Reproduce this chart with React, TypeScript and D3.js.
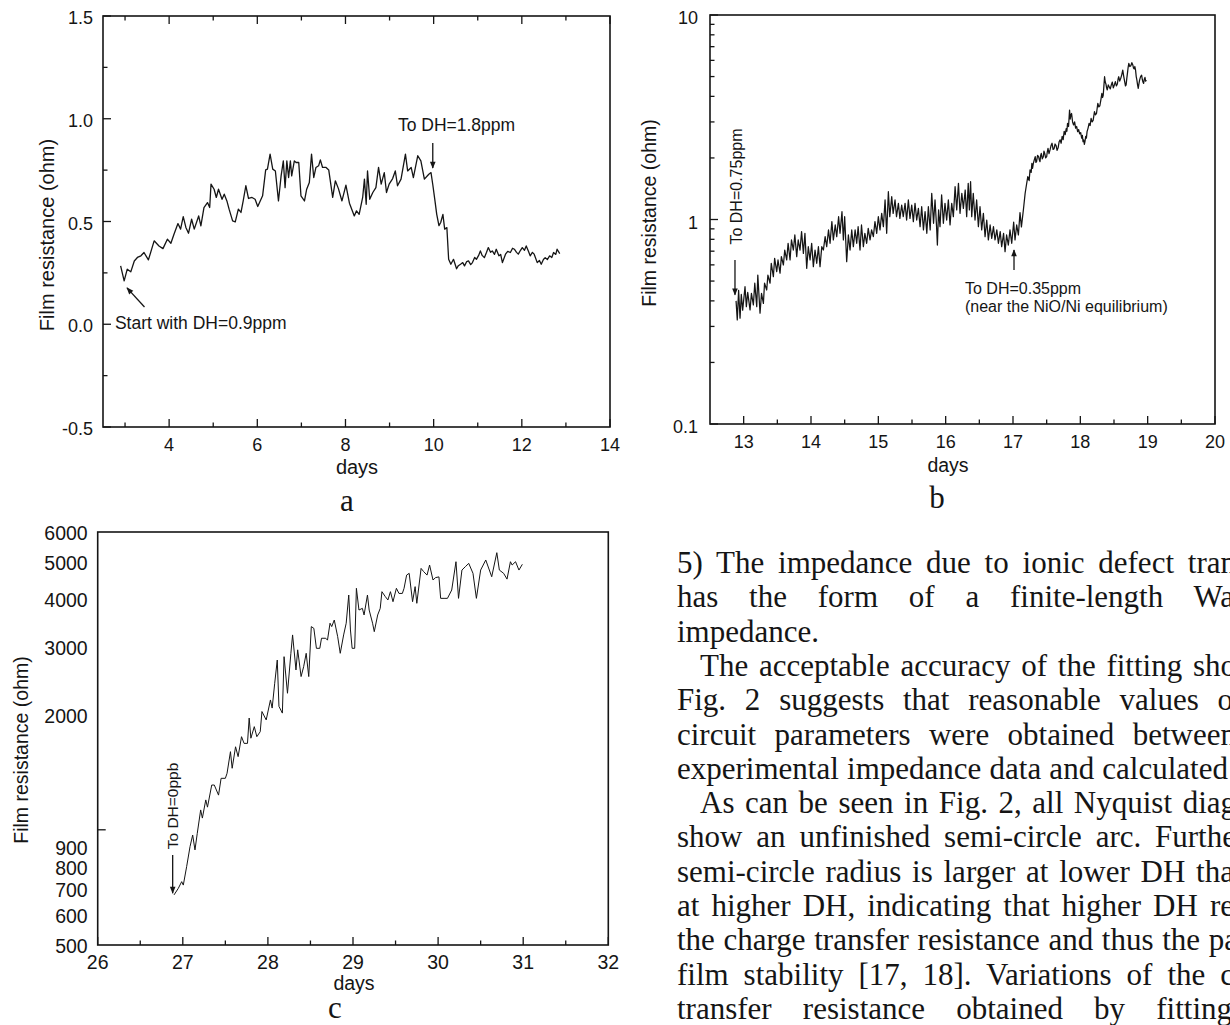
import { useEffect, useRef } from 'react'
import * as d3 from 'd3'

const SANS = "'Liberation Sans', Arial, Helvetica, sans-serif"
const SERIF = "'Liberation Serif', 'Times New Roman', serif"
const INK = '#151515'

type Pt = [number, number]

// ---- panel a: film resistance after start at DH=0.9ppm (linear ohm) ----
const dayTicksA = [4, 6, 8, 10, 12, 14]
const dayMinorA = [3, 5, 7, 9, 11, 13]
const ohmTicksA = [-0.5, 0, 0.5, 1, 1.5]
const ohmMinorA = [-0.25, 0.25, 0.75, 1.25]
const filmA: Pt[] = [
  [2.90, 0.284], [2.98, 0.211], [3.05, 0.268], [3.13, 0.255], [3.21, 0.308], [3.28, 0.325],
  [3.36, 0.333], [3.43, 0.349], [3.53, 0.313], [3.66, 0.406], [3.77, 0.381], [3.86, 0.368],
  [3.96, 0.414], [4.04, 0.394], [4.11, 0.438], [4.20, 0.490], [4.26, 0.463], [4.32, 0.524],
  [4.38, 0.471], [4.44, 0.443], [4.51, 0.511], [4.57, 0.463], [4.67, 0.527], [4.72, 0.479],
  [4.79, 0.568], [4.87, 0.592], [4.92, 0.568], [4.95, 0.682], [5.02, 0.657], [5.07, 0.617],
  [5.12, 0.657], [5.20, 0.608], [5.25, 0.633], [5.31, 0.600], [5.36, 0.560], [5.44, 0.503],
  [5.50, 0.498], [5.57, 0.560], [5.63, 0.544], [5.68, 0.600], [5.74, 0.674], [5.80, 0.612],
  [5.88, 0.617], [5.95, 0.608], [6.01, 0.573], [6.12, 0.625], [6.19, 0.751], [6.23, 0.755],
  [6.29, 0.828], [6.35, 0.755], [6.41, 0.746], [6.48, 0.600], [6.54, 0.722], [6.59, 0.795],
  [6.63, 0.665], [6.67, 0.795], [6.71, 0.714], [6.75, 0.795], [6.78, 0.722], [6.84, 0.795],
  [6.88, 0.787], [6.94, 0.787], [6.99, 0.625], [7.07, 0.600], [7.12, 0.657], [7.18, 0.690],
  [7.23, 0.828], [7.28, 0.714], [7.33, 0.763], [7.39, 0.771], [7.43, 0.800], [7.48, 0.763],
  [7.56, 0.763], [7.62, 0.751], [7.71, 0.617], [7.77, 0.698], [7.84, 0.660], [7.92, 0.600],
  [8.01, 0.677], [8.09, 0.589], [8.20, 0.527], [8.25, 0.552], [8.31, 0.535], [8.39, 0.617],
  [8.43, 0.706], [8.47, 0.584], [8.50, 0.746], [8.55, 0.608], [8.62, 0.641], [8.69, 0.665],
  [8.75, 0.763], [8.81, 0.682], [8.88, 0.738], [8.93, 0.641], [8.99, 0.682], [9.07, 0.709],
  [9.13, 0.746], [9.18, 0.674], [9.26, 0.706], [9.36, 0.828], [9.41, 0.746], [9.49, 0.763],
  [9.54, 0.714], [9.64, 0.820], [9.71, 0.795], [9.79, 0.706], [9.89, 0.730], [9.94, 0.738],
  [9.98, 0.680], [10.03, 0.600], [10.07, 0.535], [10.12, 0.480], [10.16, 0.495], [10.21, 0.535],
  [10.25, 0.463], [10.30, 0.470], [10.34, 0.316], [10.39, 0.292], [10.45, 0.316], [10.52, 0.270],
  [10.56, 0.285], [10.61, 0.292], [10.66, 0.300], [10.70, 0.284], [10.75, 0.305], [10.79, 0.308],
  [10.84, 0.290], [10.88, 0.300], [10.93, 0.325], [10.97, 0.316], [11.02, 0.335], [11.06, 0.357],
  [11.10, 0.335], [11.15, 0.324], [11.20, 0.350], [11.24, 0.373], [11.29, 0.350], [11.33, 0.357],
  [11.38, 0.340], [11.42, 0.365], [11.48, 0.333], [11.52, 0.340], [11.56, 0.300], [11.63, 0.341],
  [11.68, 0.355], [11.74, 0.349], [11.79, 0.370], [11.83, 0.365], [11.88, 0.350], [11.92, 0.341],
  [11.97, 0.360], [12.01, 0.373], [12.06, 0.360], [12.10, 0.381], [12.15, 0.355], [12.19, 0.333],
  [12.24, 0.350], [12.28, 0.341], [12.35, 0.300], [12.40, 0.310], [12.44, 0.292], [12.49, 0.315],
  [12.53, 0.324], [12.58, 0.315], [12.63, 0.333], [12.68, 0.325], [12.72, 0.349], [12.77, 0.340],
  [12.80, 0.365], [12.86, 0.344],
]

// ---- panel b: after DH=0.75ppm (log ohm) ----
const dayTicksB = [13, 14, 15, 16, 17, 18, 19, 20]
const dayMinorB = [13.5, 14.5, 15.5, 16.5, 17.5, 18.5, 19.5]
const ohmTicksB = [0.1, 1, 10]
const ohmMinorB = [0.2, 0.3, 0.4, 0.5, 0.6, 0.7, 0.8, 0.9, 2, 3, 4, 5, 6, 7, 8, 9]
const filmB: Pt[] = [
  [12.887, 0.40], [12.905, 0.323], [12.925, 0.45], [12.946, 0.329], [12.965, 0.43], [12.985, 0.36],
  [13.02, 0.469], [13.04, 0.375], [13.06, 0.44], [13.095, 0.361], [13.115, 0.435], [13.144, 0.382],
  [13.165, 0.488], [13.194, 0.375], [13.21, 0.535], [13.243, 0.348], [13.265, 0.435], [13.293, 0.389],
  [13.31, 0.488], [13.342, 0.452], [13.36, 0.535], [13.392, 0.488], [13.41, 0.611], [13.441, 0.525],
  [13.46, 0.646], [13.491, 0.556], [13.51, 0.634], [13.54, 0.546], [13.56, 0.658], [13.59, 0.599],
  [13.61, 0.709], [13.639, 0.634], [13.66, 0.765], [13.689, 0.634], [13.71, 0.794], [13.738, 0.709],
  [13.76, 0.84], [13.788, 0.658], [13.81, 0.794], [13.837, 0.709], [13.86, 0.872], [13.887, 0.683],
  [13.91, 0.856], [13.936, 0.577], [13.96, 0.736], [13.986, 0.634], [14.01, 0.765], [14.035, 0.588],
  [14.06, 0.709], [14.085, 0.611], [14.11, 0.736], [14.134, 0.588], [14.16, 0.736], [14.184, 0.709],
  [14.21, 0.824], [14.233, 0.736], [14.26, 0.889], [14.283, 0.765], [14.31, 0.976], [14.332, 0.794],
  [14.36, 0.94], [14.382, 0.824], [14.41, 1.032], [14.431, 0.856], [14.46, 1.092], [14.481, 0.794],
  [14.5, 1.032], [14.53, 0.622], [14.555, 0.84], [14.58, 0.709], [14.605, 0.889], [14.629, 0.736],
  [14.655, 0.889], [14.679, 0.765], [14.7, 0.922], [14.728, 0.709], [14.75, 0.94], [14.778, 0.736],
  [14.8, 0.856], [14.827, 0.765], [14.85, 0.905], [14.877, 0.794], [14.9, 0.889], [14.926, 0.824],
  [14.95, 0.976], [14.976, 0.856], [15.0, 1.032], [15.025, 0.889], [15.05, 1.072], [15.075, 0.922],
  [15.1, 1.246], [15.124, 0.856], [15.149, 1.368], [15.17, 1.032], [15.199, 1.293], [15.22, 1.072],
  [15.248, 1.246], [15.27, 1.032], [15.298, 1.2], [15.32, 1.013], [15.347, 1.177], [15.37, 1.032],
  [15.397, 1.2], [15.42, 0.994], [15.446, 1.246], [15.47, 1.013], [15.496, 1.177], [15.52, 0.976],
  [15.545, 1.2], [15.57, 0.994], [15.595, 1.134], [15.62, 0.922], [15.644, 1.155], [15.67, 0.889],
  [15.694, 1.092], [15.72, 0.856], [15.743, 1.155], [15.77, 0.889], [15.793, 1.343], [15.82, 0.958],
  [15.842, 1.246], [15.865, 0.922], [15.877, 0.75], [15.895, 1.113], [15.916, 0.922], [15.94, 1.318],
  [15.966, 0.958], [15.99, 1.2], [16.015, 0.994], [16.04, 1.246], [16.065, 0.94], [16.09, 1.2],
  [16.114, 1.032], [16.14, 1.447], [16.164, 1.113], [16.19, 1.503], [16.213, 1.072], [16.24, 1.343],
  [16.263, 1.134], [16.29, 1.394], [16.312, 1.032], [16.335, 1.503], [16.352, 1.113], [16.37, 1.531],
  [16.387, 1.032], [16.41, 1.343], [16.436, 0.994], [16.46, 1.246], [16.486, 0.922], [16.51, 1.155],
  [16.535, 0.889], [16.56, 1.072], [16.585, 0.824], [16.61, 0.994], [16.634, 0.794], [16.66, 0.94],
  [16.684, 0.809], [16.71, 0.922], [16.733, 0.794], [16.76, 0.889], [16.783, 0.765], [16.81, 0.872],
  [16.832, 0.736], [16.86, 0.856], [16.882, 0.696], [16.905, 0.84], [16.931, 0.75], [16.955, 0.889],
  [16.981, 0.765], [17.01, 0.97], [17.03, 0.794], [17.055, 0.94], [17.08, 0.84], [17.104, 1.08],
  [17.125, 0.92], [17.154, 1.113], [17.18, 1.34], [17.203, 1.5], [17.22, 1.62], [17.24, 1.55],
  [17.253, 1.75], [17.27, 1.70], [17.28, 1.88], [17.29, 1.78], [17.302, 1.88], [17.315, 1.95],
  [17.33, 2.03], [17.34, 1.90], [17.35, 1.92], [17.365, 2.06], [17.38, 2.03], [17.39, 1.96],
  [17.401, 1.918], [17.41, 2.05], [17.42, 2.107], [17.435, 1.98], [17.45, 2.03], [17.46, 2.16],
  [17.47, 2.11], [17.485, 2.00], [17.5, 2.03], [17.51, 2.15], [17.52, 2.23], [17.535, 2.10],
  [17.55, 2.19], [17.565, 2.30], [17.58, 2.36], [17.595, 2.20], [17.61, 2.22], [17.625, 2.34],
  [17.64, 2.30], [17.655, 2.18], [17.67, 2.24], [17.685, 2.40], [17.7, 2.45], [17.715, 2.36],
  [17.73, 2.55], [17.745, 2.46], [17.76, 2.70], [17.775, 2.60], [17.79, 2.78], [17.8, 2.70],
  [17.81, 2.95], [17.825, 2.85], [17.84, 3.43], [17.85, 3.10], [17.86, 3.25], [17.87, 3.30],
  [17.885, 3.00], [17.9, 2.90], [17.915, 3.00], [17.93, 2.80], [17.945, 2.85], [17.96, 2.69],
  [17.975, 2.75], [17.99, 2.62], [18.005, 2.66], [18.02, 2.50], [18.03, 2.58], [18.04, 2.40],
  [18.05, 2.45], [18.06, 2.33], [18.07, 2.42], [18.08, 2.55], [18.09, 2.50], [18.1, 2.69],
  [18.115, 2.80], [18.13, 2.95], [18.145, 2.88], [18.16, 3.12], [18.175, 3.00], [18.19, 3.05],
  [18.2, 3.20], [18.21, 3.37], [18.225, 3.25], [18.24, 3.30], [18.25, 3.50], [18.26, 3.70],
  [18.275, 3.55], [18.29, 3.60], [18.305, 3.85], [18.32, 4.14], [18.33, 3.95], [18.34, 4.05],
  [18.35, 4.50], [18.36, 4.99], [18.37, 4.70], [18.38, 4.60], [18.39, 4.40], [18.4, 4.30],
  [18.415, 4.55], [18.43, 4.45], [18.445, 4.35], [18.46, 4.55], [18.475, 4.70], [18.49, 4.40],
  [18.505, 4.55], [18.52, 4.72], [18.535, 4.50], [18.55, 4.60], [18.56, 4.85], [18.57, 4.99],
  [18.585, 4.75], [18.6, 4.90], [18.615, 5.10], [18.63, 5.38], [18.645, 5.00], [18.66, 4.70],
  [18.67, 4.50], [18.68, 4.55], [18.69, 4.90], [18.7, 5.20], [18.71, 5.55], [18.72, 5.80],
  [18.735, 5.60], [18.75, 5.65], [18.765, 5.85], [18.78, 5.69], [18.79, 5.50], [18.8, 5.45],
  [18.81, 5.60], [18.82, 5.38], [18.83, 5.00], [18.84, 4.80], [18.85, 4.55], [18.86, 4.38],
  [18.87, 4.60], [18.88, 4.80], [18.895, 5.00], [18.91, 5.08], [18.92, 4.85], [18.93, 4.70],
  [18.94, 4.63], [18.95, 4.85], [18.96, 4.95], [18.97, 4.75], [18.98, 4.81],
]

// ---- panel c: after DH=0ppb (log ohm) ----
const dayTicksC = [26, 27, 28, 29, 30, 31, 32]
const dayMinorC = [26.5, 27.5, 28.5, 29.5, 30.5, 31.5]
const ohmLabelsC = [500, 600, 700, 800, 900, 2000, 3000, 4000, 5000, 6000]
const ohmMarksC = [1000]
const filmC: Pt[] = [
  [26.897, 676], [26.947, 703], [26.987, 732], [27.006, 717], [27.045, 801], [27.085, 904],
  [27.116, 969], [27.143, 886], [27.17, 979], [27.21, 1127], [27.23, 1073], [27.27, 1197],
  [27.29, 1146], [27.34, 1309], [27.37, 1309], [27.42, 1232], [27.45, 1363], [27.50, 1363],
  [27.52, 1405], [27.56, 1600], [27.58, 1448], [27.62, 1648], [27.65, 1553], [27.69, 1751],
  [27.72, 1682], [27.76, 1682], [27.78, 1959], [27.80, 1735], [27.84, 1860], [27.87, 1751],
  [27.91, 1805], [27.93, 2037], [27.98, 1937], [28.03, 2184], [28.05, 2080], [28.08, 2415],
  [28.11, 2777], [28.13, 2101], [28.17, 2018], [28.19, 2834], [28.23, 2274], [28.27, 2892],
  [28.29, 3230], [28.33, 2616], [28.35, 2953], [28.39, 2514], [28.42, 2668], [28.45, 2892],
  [28.48, 2514], [28.51, 3396], [28.54, 3360], [28.57, 2980], [28.61, 2980], [28.63, 3166],
  [28.68, 3166], [28.70, 3130], [28.73, 3466], [28.75, 3396], [28.78, 3533], [28.82, 3196],
  [28.85, 2892], [28.89, 3230], [28.92, 3466], [28.95, 4107], [28.97, 3328], [28.99, 2980],
  [29.02, 2980], [29.04, 4276], [29.07, 3752], [29.11, 3790], [29.13, 3642], [29.17, 4107],
  [29.19, 3752], [29.23, 3466], [29.25, 3294], [29.29, 3642], [29.32, 3790], [29.34, 4190],
  [29.38, 4066], [29.41, 3986], [29.44, 4190], [29.47, 3945], [29.51, 4276], [29.54, 4146],
  [29.58, 4146], [29.60, 4276], [29.63, 4630], [29.66, 4679], [29.70, 3945], [29.73, 4319],
  [29.75, 3907], [29.80, 4820], [29.83, 4728], [29.87, 4630], [29.90, 4919], [29.94, 4495],
  [29.97, 4560], [30.01, 4580], [30.03, 4025], [30.07, 4025], [30.11, 4025], [30.16, 4232],
  [30.21, 5018], [30.24, 4025], [30.28, 4772], [30.32, 4870], [30.36, 4968], [30.41, 4679],
  [30.45, 4025], [30.50, 4772], [30.56, 5070], [30.63, 4584], [30.69, 5298], [30.72, 4772],
  [30.77, 4679], [30.81, 4519], [30.85, 5018], [30.87, 4919], [30.91, 5018], [30.95, 4772],
  [30.99, 4940],
]

// ---- the page text to the right of panel c ----
const bodyLines = [
  '5) The impedance due to ionic defect tran',
  'has the form of a finite-length Wa',
  'impedance.',
  'The acceptable accuracy of the fitting sho',
  'Fig. 2 suggests that reasonable values o',
  'circuit parameters were obtained between',
  'experimental impedance data and calculated',
  'As can be seen in Fig. 2, all Nyquist diag',
  'show an unfinished semi-circle arc. Furthe',
  'semi-circle radius is larger at lower DH tha',
  'at higher DH, indicating that higher DH re',
  'the charge transfer resistance and thus the pa',
  'film stability [17, 18]. Variations of the c',
  'transfer resistance obtained by fitting',
]
const bodyIndented = [false, false, false, true, false, false, false, true, false, false, false, false, false, false]
// right end each justified line is stretched to (0 = ragged line)
const bodyRightEdge = [1236, 1234, 0, 1236, 1233, 1236, 1228, 1236, 1236, 1234, 1234, 1238, 1234, 1232]

function drawPanel(svg: any, p: any) {
  const g = svg.append('g')
  const [x0, x1] = p.x.range()
  const [yb, yt] = p.y.range()

  const xt = p.xTicks.map((v: number) => ({ v, len: 8 })).concat(p.xMinor.map((v: number) => ({ v, len: 4.5 })))
  const ytk = p.yMarks.map((v: number) => ({ v, len: 8 })).concat(p.yMinor.map((v: number) => ({ v, len: 4.5 })))

  g.selectAll('line.xb').data(xt).join('line').attr('class', 'xb')
    .attr('x1', (d: any) => p.x(d.v)).attr('x2', (d: any) => p.x(d.v))
    .attr('y1', yb).attr('y2', (d: any) => yb - d.len)
  if (p.top) {
    g.selectAll('line.xt').data(xt).join('line').attr('class', 'xt')
      .attr('x1', (d: any) => p.x(d.v)).attr('x2', (d: any) => p.x(d.v))
      .attr('y1', yt).attr('y2', (d: any) => yt + d.len)
  }
  g.selectAll('line.yl').data(ytk).join('line').attr('class', 'yl')
    .attr('x1', x0).attr('x2', (d: any) => x0 + d.len)
    .attr('y1', (d: any) => p.y(d.v)).attr('y2', (d: any) => p.y(d.v))
  g.selectAll('line').attr('stroke', INK).attr('stroke-width', 1.3)

  g.append('rect').attr('x', x0).attr('y', yt).attr('width', x1 - x0).attr('height', yb - yt)
    .attr('fill', 'none').attr('stroke', INK).attr('stroke-width', 1.6)

  g.selectAll('text.xlab').data(p.xTicks).join('text').attr('class', 'xlab')
    .attr('x', (d: number) => p.x(d)).attr('y', yb + p.xLabelDy)
    .attr('text-anchor', 'middle').text((d: number) => String(d))
  g.selectAll('text.ylab').data(p.yLabels).join('text').attr('class', 'ylab')
    .attr('x', x0 - p.yLabelGap).attr('y', (d: number) => p.y(d) + p.yLabelDy)
    .attr('text-anchor', 'end').text(p.yFormat)
  g.selectAll('text').attr('font-family', SANS).attr('font-size', p.font).attr('fill', INK)

  const line = d3.line<Pt>().x(d => p.x(d[0])).y(d => p.y(d[1]))
  g.append('path').datum(p.data).attr('d', line)
    .attr('fill', 'none').attr('stroke', INK).attr('stroke-width', p.lineWidth)
    .attr('stroke-linejoin', 'round')

  // axis titles
  g.append('text').attr('x', p.xTitle[0]).attr('y', p.xTitle[1]).attr('text-anchor', 'middle')
    .attr('font-family', SANS).attr('font-size', p.titleSize).attr('fill', INK).text('days')
  g.append('text').attr('transform', `translate(${p.yTitle[0]},${p.yTitle[1]}) rotate(-90)`)
    .attr('text-anchor', 'middle').attr('font-family', SANS).attr('font-size', p.titleSize)
    .attr('fill', INK).text('Film resistance (ohm)')
  g.append('text').attr('x', p.tag[0]).attr('y', p.tag[1]).attr('text-anchor', 'middle')
    .attr('font-family', SERIF).attr('font-size', 31).attr('fill', INK).text(p.tag[2])
  return g
}

function note(g: any, x: number, y: number, text: string, size: number, rotate = false) {
  const t = g.append('text').attr('font-family', SANS).attr('font-size', size).attr('fill', INK).text(text)
  if (rotate) t.attr('transform', `translate(${x},${y}) rotate(-90)`).attr('text-anchor', 'middle')
  else t.attr('x', x).attr('y', y)
}

function arrow(g: any, x1: number, y1: number, x2: number, y2: number) {
  g.append('line').attr('x1', x1).attr('y1', y1).attr('x2', x2).attr('y2', y2)
    .attr('stroke', INK).attr('stroke-width', 1.3).attr('marker-end', 'url(#head)')
}

export default function App() {
  const svgRef = useRef<SVGSVGElement>(null)

  useEffect(() => {
    const svg = d3.select(svgRef.current)
    svg.selectAll('*').remove()

    svg.append('defs').append('marker')
      .attr('id', 'head').attr('viewBox', '0 0 10 10').attr('refX', 9).attr('refY', 5)
      .attr('markerWidth', 10).attr('markerHeight', 7).attr('markerUnits', 'userSpaceOnUse')
      .attr('orient', 'auto')
      .append('path').attr('d', 'M0,1L10,5L0,9Z').attr('fill', INK)

    // panel a
    const xA = d3.scaleLinear().domain([2.5, 14]).range([103, 610])
    const yA = d3.scaleLinear().domain([-0.5, 1.5]).range([427, 16])
    const gA = drawPanel(svg, {
      x: xA, y: yA, xTicks: dayTicksA, xMinor: dayMinorA, yMarks: ohmTicksA, yMinor: ohmMinorA,
      yLabels: ohmTicksA, yFormat: (v: number) => v.toFixed(1), top: true, font: 18,
      xLabelDy: 24, yLabelGap: 10, yLabelDy: 8, data: filmA, lineWidth: 1.3,
      xTitle: [357, 474], yTitle: [54, 235], titleSize: 20, tag: [347, 511, 'a'],
    })
    note(gA, xA(9.19), yA(0.94), 'To DH=1.8ppm', 17.5)
    arrow(gA, xA(9.98), yA(0.882), xA(9.98), yA(0.76))
    arrow(gA, xA(3.441), yA(0.084), xA(3.044), yA(0.177))
    note(gA, xA(2.77), yA(-0.023), 'Start with DH=0.9ppm', 17.5)

    // panel b
    const xB = d3.scaleLinear().domain([12.5, 20]).range([710, 1215])
    const yB = d3.scaleLog().domain([0.1, 10]).range([424, 15])
    const gB = drawPanel(svg, {
      x: xB, y: yB, xTicks: dayTicksB, xMinor: dayMinorB, yMarks: ohmTicksB, yMinor: ohmMinorB,
      yLabels: ohmTicksB, yFormat: (v: number) => String(v), top: false, font: 18,
      xLabelDy: 24, yLabelGap: 12, yLabelDy: 9, data: filmB, lineWidth: 1.25,
      xTitle: [948, 472], yTitle: [656, 213], titleSize: 19.5, tag: [937, 508, 'b'],
    })
    note(gB, xB(12.968), yB(1.45), 'To DH=0.75ppm', 16, true)
    arrow(gB, xB(12.871), yB(0.634), xB(12.871), yB(0.428))
    note(gB, xB(16.287), yB(0.432), 'To DH=0.35ppm', 16)
    note(gB, xB(16.287), yB(0.353), '(near the NiO/Ni equilibrium)', 16)
    arrow(gB, xB(17.015), yB(0.567), xB(17.015), yB(0.71))

    // panel c
    const xC = d3.scaleLinear().domain([26, 32]).range([97.7, 608.3])
    const yC = d3.scaleLog().domain([500, 6000]).range([945, 532])
    const gC = drawPanel(svg, {
      x: xC, y: yC, xTicks: dayTicksC, xMinor: dayMinorC, yMarks: ohmMarksC, yMinor: [],
      yLabels: ohmLabelsC, yFormat: (v: number) => String(v), top: false, font: 19.5,
      xLabelDy: 24, yLabelGap: 10, yLabelDy: 8, data: filmC, lineWidth: 1,
      xTitle: [354, 990], yTitle: [27.6, 750], titleSize: 19.5, tag: [335, 1018, 'c'],
    })
    note(gC, xC(26.944), yC(1154), 'To DH=0ppb', 15.5, true)
    arrow(gC, xC(26.881), yC(859), xC(26.881), yC(683))

    // body text, justified by word spacing
    const body = svg.append('g').attr('font-family', SERIF).attr('font-size', 31).attr('fill', INK)
    body.selectAll('text').data(bodyLines).join('text')
      .attr('x', (_: string, i: number) => (bodyIndented[i] ? 700 : 677))
      .attr('y', (_: string, i: number) => 573 + 34.3 * i)
      .text((d: string) => d)
      .each(function (this: SVGTextElement, d: string, i: number) {
        const edge = bodyRightEdge[i]
        if (!edge) return
        const gaps = d.split(' ').length - 1
        const start = bodyIndented[i] ? 700 : 677
        const w = this.getComputedTextLength()
        d3.select(this).attr('word-spacing', (edge - start - w) / gaps)
      })
  }, [])

  return (
    <div style={{ position: 'absolute', left: 0, top: 0 }}>
      <svg ref={svgRef} width={1230} height={1025} style={{ display: 'block', background: '#fff' }} />
    </div>
  )
}
